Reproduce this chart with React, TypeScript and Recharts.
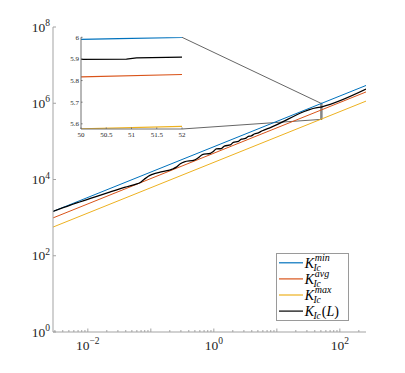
import React from 'react';
import { LineChart, Line, XAxis, YAxis, Legend, ReferenceArea, ReferenceLine, CartesianGrid } from 'recharts';

// K_Ic(L): L values and log10(K)
const kIcL = [0.0028, 0.00527, 0.011, 0.0228, 0.0394, 0.0568, 0.0681, 0.0788, 0.0913, 0.1056, 0.1522, 0.2194, 0.254, 0.2939, 0.3402, 0.4903, 0.5675, 0.657, 0.88, 0.982, 1.096, 1.315, 1.468, 1.828, 2.04, 2.448, 2.733, 3.162, 3.528, 3.937, 4.394, 5.086, 5.887, 7.885, 50, 50.9, 51.1, 52, 260];
const kIcLog = [3.162, 3.328, 3.502, 3.674, 3.798, 3.875, 3.923, 4.007, 4.084, 4.134, 4.206, 4.272, 4.325, 4.413, 4.464, 4.51, 4.569, 4.654, 4.687, 4.736, 4.801, 4.812, 4.877, 4.907, 4.972, 5.0, 5.057, 5.077, 5.131, 5.145, 5.194, 5.224, 5.278, 5.361, 5.898, 5.899, 5.905, 5.908, 6.372];

// straight bounds (log-log), read at both ends of the x range
const edgeL = [0.0028, 260];
const kMinLog = [3.162, 6.466];
const kAvgLog = [2.992, 6.296];
const kMaxLog = [2.752, 6.056];

// inset: zoom on 50 <= L <= 52, y axis is log10(K)
const insetL = [50, 52];
const insetMinLog = [5.99, 6.0];
const insetAvgLog = [5.817, 5.828];
const insetMaxLog = [5.577, 5.588];
const insetKIcL = [50, 50.9, 51.1, 52];
const insetKIcLog = [5.898, 5.899, 5.905, 5.908];

const X_DOMAIN = [0.0028, 260];
const Y_DOMAIN = [1, 1e8];
const xLabelTicks = [0.01, 1, 100];
const yTicks = [1, 1e2, 1e4, 1e6, 1e8];
const insetXTicks = [50, 50.5, 51, 51.5, 52];
const insetYTicks = [5.6, 5.7, 5.8, 5.9, 6];
const INSET_Y_DOMAIN = [5.576, 6.0];
const legendOrder = ['min', 'avg', 'max', 'L'];

const xTicks: number[] = [];
for (let e = -3; e <= 2; e++) {
  for (let m = 1; m <= 9; m++) {
    const v = m * 10 ** e;
    if (v >= X_DOMAIN[0] && v <= X_DOMAIN[1]) xTicks.push(v);
  }
}

const BLUE = '#0072BD';
const RED = '#D95319';
const YELLOW = '#EDB120';
const BLACK = '#000000';
const AXIS = '#a3a3a3';
const INSET_AXIS = '#707070';
const TEXT = '#262626';
const FONT = '"Liberation Serif", "DejaVu Serif", serif';

const MAIN = { left: 53, top: 27, right: 366, bottom: 332, width: 405, height: 373 };
const INSET = { left: 81, top: 37.3, right: 182, bottom: 129 };

const rows = (xs: number[], ys: number[], log = true) =>
  xs.map((L, i) => ({ L, K: log ? 10 ** ys[i] : ys[i] }));

// pixel -> main chart data coordinates (for the zoom connector lines)
const lx0 = Math.log10(X_DOMAIN[0]);
const lx1 = Math.log10(X_DOMAIN[1]);
const mainX = (px: number) => 10 ** (lx0 + ((px - MAIN.left) / (MAIN.right - MAIN.left)) * (lx1 - lx0));
const mainY = (py: number) => 10 ** (((MAIN.bottom - py) / (MAIN.bottom - MAIN.top)) * 8);

const isDecade = (v: number) => Math.abs(Math.log10(v) - Math.round(Math.log10(v))) < 1e-6;
const isLabeled = (v: number) => xLabelTicks.some((t) => Math.abs(t - v) / t < 1e-6);

const Pow10 = ({ x, y, exp, anchor }: any) => (
  <text x={x} y={y} textAnchor={anchor} style={{ fontFamily: FONT, fontSize: 13.5 }} fill={TEXT}>
    <tspan>10</tspan>
    <tspan dy={-5.5} style={{ fontSize: 9.5 }}>{exp < 0 ? '\u2212' + -exp : String(exp)}</tspan>
  </text>
);

const BottomTick = ({ x, y, payload }: any) => {
  const v = payload.value;
  const len = isDecade(v) ? 3.5 : 2;
  return (
    <g>
      <line x1={x} x2={x} y1={y} y2={y - len} stroke={AXIS} />
      {isLabeled(v) && <Pow10 x={x} y={y + 17.5} exp={Math.round(Math.log10(v))} anchor="middle" />}
    </g>
  );
};

const TopTick = ({ x, y, payload }: any) => {
  const len = isDecade(payload.value) ? 3.5 : 2;
  return <line x1={x} x2={x} y1={y} y2={y + len} stroke={AXIS} />;
};

const LeftTick = ({ x, y, payload }: any) => (
  <g>
    <line x1={x} x2={x + 3} y1={y} y2={y} stroke={AXIS} />
    <Pow10 x={x - 3} y={y + 4.5} exp={Math.round(Math.log10(payload.value))} anchor="end" />
  </g>
);

const RightTick = ({ x, y }: any) => <line x1={x} x2={x - 3} y1={y} y2={y} stroke={AXIS} />;

const fmt1 = (v: number) => String(Math.round(v * 10) / 10);

const InsetBottomTick = ({ x, y, payload }: any) => (
  <g>
    <line x1={x} x2={x} y1={y} y2={y - 1.5} stroke={INSET_AXIS} />
    <text x={x} y={y + 7.5} textAnchor="middle" style={{ fontFamily: FONT, fontSize: 7 }} fill={TEXT}>
      {fmt1(payload.value)}
    </text>
  </g>
);
const InsetLeftTick = ({ x, y, payload }: any) => (
  <g>
    <line x1={x} x2={x + 1.5} y1={y} y2={y} stroke={INSET_AXIS} />
    <text x={x - 2} y={y + 2.4} textAnchor="end" style={{ fontFamily: FONT, fontSize: 7 }} fill={TEXT}>
      {fmt1(payload.value)}
    </text>
  </g>
);
const InsetTopTick = ({ x, y }: any) => <line x1={x} x2={x} y1={y} y2={y + 1.5} stroke={INSET_AXIS} />;
const InsetRightTick = ({ x, y }: any) => <line x1={x} x2={x - 1.5} y1={y} y2={y} stroke={INSET_AXIS} />;

const LegendBox = ({ payload }: any) => {
  const items = [...(payload || [])].sort(
    (a: any, b: any) => legendOrder.indexOf(a.value) - legendOrder.indexOf(b.value)
  );
  return (
    <svg width={73} height={68} style={{ display: 'block' }}>
      <rect x={0.5} y={0.5} width={72} height={67} fill="#fff" stroke="#9a9a9a" />
      {items.map((entry: any, i: number) => {
        const cy = 9.8 + i * 16.1;
        const tx = 28.8;
        const name = entry.value;
        return (
          <g key={name}>
            <line x1={3} x2={27} y1={cy} y2={cy} stroke={entry.color} strokeWidth={1.2} />
            {name !== 'L' ? (
              <text x={tx} y={cy + 4.8} style={{ fontFamily: FONT, fontSize: 14, fontStyle: 'italic' }} fill="#000">
                K
                <tspan x={tx + 10} dy={-6.4} style={{ fontSize: 10 }}>{name}</tspan>
                <tspan x={tx + 8.6} dy={9.8} style={{ fontSize: 9.5 }}>Ic</tspan>
              </text>
            ) : (
              <text x={tx} y={cy + 4.8} style={{ fontFamily: FONT, fontSize: 14, fontStyle: 'italic' }} fill="#000">
                K
                <tspan x={tx + 8.6} dy={3.4} style={{ fontSize: 9.5 }}>Ic</tspan>
                <tspan x={tx + 17} dy={-3.4} style={{ fontStyle: 'normal' }}>(</tspan>
                <tspan>L</tspan>
                <tspan style={{ fontStyle: 'normal' }}>)</tspan>
              </text>
            )}
          </g>
        );
      })}
    </svg>
  );
};

const MainChart = () => (
  <LineChart
    width={MAIN.width}
    height={MAIN.height}
    margin={{ top: MAIN.top, right: MAIN.width - MAIN.right, bottom: 0, left: 0 }}
    style={{ position: 'absolute', left: 0, top: 0 }}
  >
    <XAxis
      dataKey="L" type="number" scale="log" domain={X_DOMAIN} allowDataOverflow
      ticks={xTicks} interval={0} tickSize={0} tickMargin={0}
      height={MAIN.height - MAIN.bottom} stroke={AXIS} tick={BottomTick}
    />
    <XAxis
      xAxisId="top" orientation="top" dataKey="L" type="number" scale="log" domain={X_DOMAIN} allowDataOverflow
      ticks={xTicks} interval={0} tickSize={0} tickMargin={0} height={0} stroke={AXIS} tick={TopTick}
    />
    <YAxis
      type="number" scale="log" domain={Y_DOMAIN} allowDataOverflow ticks={yTicks} interval={0}
      tickSize={0} tickMargin={0} width={MAIN.left} stroke={AXIS} tick={LeftTick}
    />
    <YAxis
      yAxisId="right" orientation="right" type="number" scale="log" domain={Y_DOMAIN} allowDataOverflow
      ticks={yTicks} interval={0} tickSize={0} tickMargin={0} width={0} stroke={AXIS} tick={RightTick}
    />
    <ReferenceArea
      x1={insetL[0]} x2={insetL[1]} y1={10 ** INSET_Y_DOMAIN[0]} y2={10 ** INSET_Y_DOMAIN[1]}
      fill="none" stroke="#555" strokeWidth={1} ifOverflow="visible"
    />
    <ReferenceLine
      segment={[{ x: mainX(INSET.right), y: mainY(INSET.top) }, { x: insetL[0], y: 10 ** INSET_Y_DOMAIN[1] }]}
      stroke="#666" strokeWidth={1} ifOverflow="visible"
    />
    <ReferenceLine
      segment={[{ x: mainX(INSET.right), y: mainY(INSET.bottom) }, { x: insetL[0], y: 10 ** INSET_Y_DOMAIN[0] }]}
      stroke="#666" strokeWidth={1} ifOverflow="visible"
    />
    <Line data={rows(edgeL, kMinLog)} dataKey="K" name="min" stroke={BLUE} strokeWidth={1} dot={false} isAnimationActive={false} />
    <Line data={rows(edgeL, kAvgLog)} dataKey="K" name="avg" stroke={RED} strokeWidth={1} dot={false} isAnimationActive={false} />
    <Line data={rows(edgeL, kMaxLog)} dataKey="K" name="max" stroke={YELLOW} strokeWidth={1} dot={false} isAnimationActive={false} />
    <Line data={rows(kIcL, kIcLog)} dataKey="K" name="L" type="monotone" stroke={BLACK} strokeWidth={1.3} dot={false} isAnimationActive={false} />
    <Legend
      layout="vertical" align="center" verticalAlign="middle"
      wrapperStyle={{ left: 275.5, top: 252.5, width: 73, height: 68 }}
      content={(props: any) => <LegendBox payload={props.payload} />}
    />
  </LineChart>
);

const InsetChart = () => (
  <div style={{ position: 'absolute', left: INSET.left - 25, top: INSET.top - 7.3 }}>
    <LineChart
      width={INSET.right - INSET.left + 25 + 14}
      height={INSET.bottom - INSET.top + 7.3 + 16}
      margin={{ top: 7.3, right: 14, bottom: 0, left: 0 }}
    >
      <CartesianGrid fill="#fff" stroke="none" horizontal={false} vertical={false} />
      <XAxis
        dataKey="L" type="number" domain={insetL} allowDataOverflow ticks={insetXTicks} interval={0}
        tickSize={0} tickMargin={0} height={16} stroke={INSET_AXIS} tick={InsetBottomTick}
      />
      <XAxis
        xAxisId="top" orientation="top" dataKey="L" type="number" domain={insetL} allowDataOverflow
        ticks={insetXTicks} interval={0} tickSize={0} tickMargin={0} height={0} stroke={INSET_AXIS} tick={InsetTopTick}
      />
      <YAxis
        type="number" domain={INSET_Y_DOMAIN} allowDataOverflow ticks={insetYTicks} interval={0}
        tickSize={0} tickMargin={0} width={25} stroke={INSET_AXIS} tick={InsetLeftTick}
      />
      <YAxis
        yAxisId="right" orientation="right" type="number" domain={INSET_Y_DOMAIN} allowDataOverflow
        ticks={insetYTicks} interval={0} tickSize={0} tickMargin={0} width={0} stroke={INSET_AXIS} tick={InsetRightTick}
      />
      <Line data={rows(insetL, insetMinLog, false)} dataKey="K" stroke={BLUE} strokeWidth={1.2} dot={false} isAnimationActive={false} />
      <Line data={rows(insetL, insetAvgLog, false)} dataKey="K" stroke={RED} strokeWidth={1.2} dot={false} isAnimationActive={false} />
      <Line data={rows(insetL, insetMaxLog, false)} dataKey="K" stroke={YELLOW} strokeWidth={1.2} dot={false} isAnimationActive={false} />
      <Line data={rows(insetKIcL, insetKIcLog, false)} dataKey="K" stroke={BLACK} strokeWidth={1.2} dot={false} isAnimationActive={false} />
    </LineChart>
  </div>
);

export default function App() {
  return (
    <div style={{ position: 'absolute', left: 0, top: 0, width: MAIN.width, height: MAIN.height, background: '#fff' }}>
      <MainChart />
      <InsetChart />
    </div>
  );
}
